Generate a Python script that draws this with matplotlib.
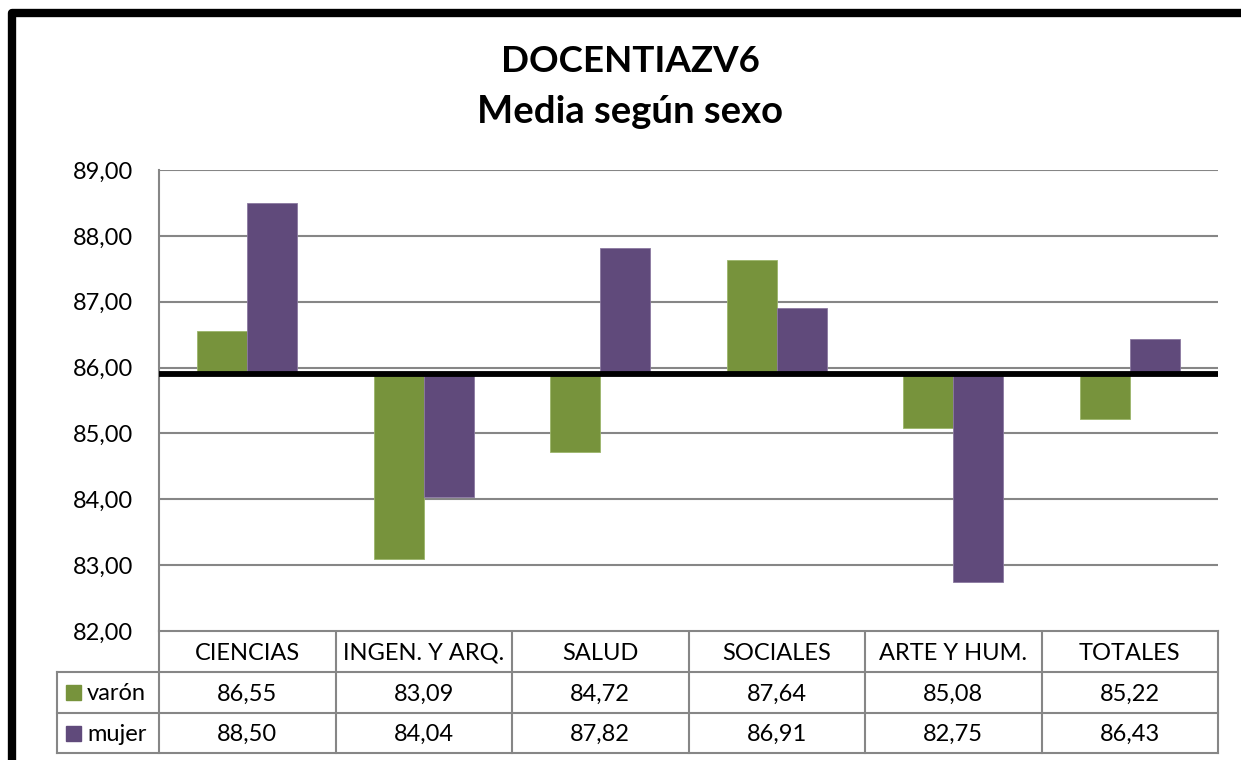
import matplotlib
matplotlib.use("Agg")
import matplotlib.pyplot as plt
from matplotlib.patches import Rectangle
import numpy as np

categories = ["CIENCIAS", "INGEN. Y ARQ.", "SALUD", "SOCIALES", "ARTE Y HUM.", "TOTALES"]
varon = [86.55, 83.09, 84.72, 87.64, 85.08, 85.22]
mujer = [88.50, 84.04, 87.82, 86.91, 82.75, 86.43]
series_names = ["varón", "mujer"]
yticks = [82, 83, 84, 85, 86, 87, 88, 89]
baseline = 85.9
title_lines = ["DOCENTIAZV6", "Media según sexo"]

GREEN = "#77933C"
PURPLE = "#604A7B"
GRID = "#868686"
FONT = "Lato"

W, H = 1241, 760
fig = plt.figure(figsize=(W / 100, H / 100), dpi=100)
plt.rcParams['font.family'] = [FONT, 'DejaVu Sans']

def fx(px):
    return px / W

def fy(py):
    return 1 - py / H

# main plot area
L, R, T, B = 159, 1218, 170, 631
ax = fig.add_axes([fx(L), fy(B), fx(R) - fx(L), fy(T) - fy(B)])
ax.set_xlim(-0.5, len(categories) - 0.5)
ax.set_ylim(min(yticks), max(yticks))
ax.set_yticks(yticks)
ax.set_yticklabels([f"{v:.2f}".replace(".", ",") for v in yticks], fontsize=17)
ax.tick_params(axis='y', length=0, pad=18.5)
ax.tick_params(axis='x', length=0, labelbottom=False)
for s in ["top", "right", "bottom"]:
    ax.spines[s].set_visible(False)
ax.spines["left"].set_color(GRID)
ax.spines["left"].set_linewidth(1.5)
ax.yaxis.grid(True, color=GRID, linewidth=1.5)
ax.set_axisbelow(True)

x = np.arange(len(categories))
w = 0.283
ax.bar(x - w / 2, np.array(varon) - baseline, width=w, bottom=baseline, color=GREEN,
       edgecolor="#9bb56a", linewidth=0.6, zorder=3)
ax.bar(x + w / 2, np.array(mujer) - baseline, width=w, bottom=baseline, color=PURPLE,
       edgecolor="#8a78a0", linewidth=0.6, zorder=3)
ax.axhline(baseline, color="black", linewidth=4.2, zorder=4)

# overlay in pixel coordinates for table, title and border
ov = fig.add_axes([0, 0, 1, 1], zorder=-1)
ov.set_xlim(0, W)
ov.set_ylim(H, 0)
ov.axis("off")
ov.patch.set_alpha(0)

# title
ov.text(630, 62, title_lines[0], ha="center", va="center", fontsize=26.5, fontweight="bold")
ov.text(630, 112, title_lines[1], ha="center", va="center", fontsize=27.5, fontweight="bold")

# border (left + top)
ov.plot([12, 12, W + 5], [H + 5, 13, 13], color="black", linewidth=6, solid_joinstyle="round",
        solid_capstyle="butt")

# table
row_y = [631, 672, 713, 753]
legend_x = 57
col_w = (R - L) / len(categories)
col_x = [L + i * col_w for i in range(len(categories) + 1)]
tlw = 1.5
ov.plot([L, R], [row_y[0], row_y[0]], color=GRID, lw=tlw)
for yy in row_y[1:]:
    ov.plot([legend_x, R], [yy, yy], color=GRID, lw=tlw)
for xx in col_x:
    ov.plot([xx, xx], [row_y[0], row_y[3]], color=GRID, lw=tlw)
ov.plot([legend_x, legend_x], [row_y[1], row_y[3]], color=GRID, lw=tlw)

fs = 17
for i, c in enumerate(categories):
    cx = (col_x[i] + col_x[i + 1]) / 2
    ov.text(cx, (row_y[0] + row_y[1]) / 2 + 1.5, c, ha="center", va="center", fontsize=fs)
    ov.text(cx, (row_y[1] + row_y[2]) / 2 + 1.5, f"{varon[i]:.2f}".replace(".", ","),
            ha="center", va="center", fontsize=fs)
    ov.text(cx, (row_y[2] + row_y[3]) / 2 + 1.5, f"{mujer[i]:.2f}".replace(".", ","),
            ha="center", va="center", fontsize=fs)

for j, (name, col) in enumerate(zip(series_names, [GREEN, PURPLE])):
    cy = (row_y[j + 1] + row_y[j + 2]) / 2
    ov.add_patch(Rectangle((66, cy - 7.5), 15, 15, color=col))
    ov.text(87, cy + 1.5, name, ha="left", va="center", fontsize=fs)

fig.savefig("out.png", dpi=100)
